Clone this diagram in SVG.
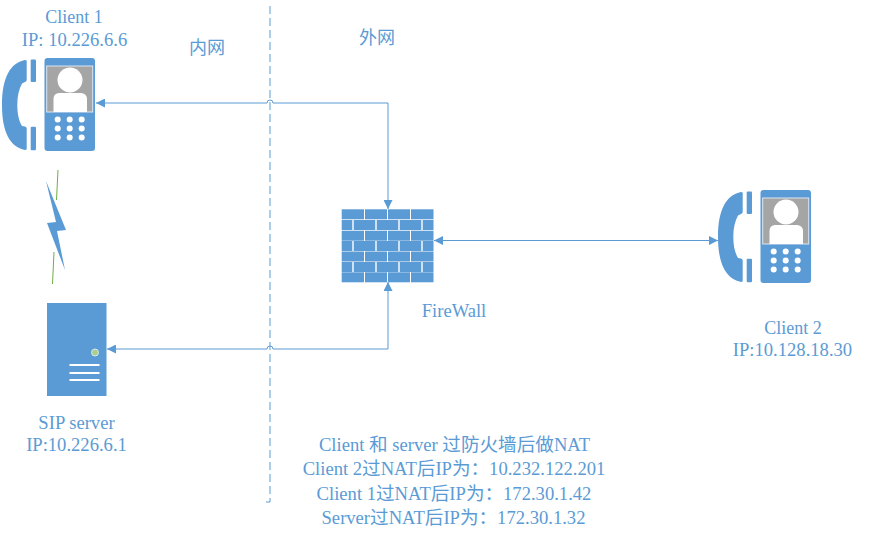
<svg xmlns="http://www.w3.org/2000/svg" width="876" height="548" viewBox="0 0 876 548">
<style>
text{font-family:"Liberation Serif","Noto Sans CJK SC",serif;font-size:18.600px;fill:#5B9BD5;text-anchor:middle}
.s{font-size:18px}
.c{fill:none;stroke:#5B9BD5;stroke-width:1}
.f{fill:#5B9BD5}
.br{fill:#5B9BD5}
</style>
<defs>
<marker id="a" viewBox="0 0 10 10" refX="10" refY="5" markerWidth="10" markerHeight="9" markerUnits="userSpaceOnUse" orient="auto-start-reverse"><path d="M0 0L10 5L0 10z" fill="#5B9BD5"/></marker>
<g id="phone">
<path class="f" d="M25 60C10 63 2 78 2 105C2 132 10 147 25 150L26.700 149.500V128.500Q26.700 127 25 126.500L22 126C19 121 17.300 114 17.300 105C17.300 96 19 89 22 83.500L25 82Q26.700 81.500 26.700 80V60.500Z"/>
<rect class="f" x="30.700" y="59.500" width="5.300" height="22.500" rx="1"/>
<rect class="f" x="30.700" y="126.800" width="5.300" height="23.500" rx="1"/>
<rect class="f" x="44.500" y="58" width="50.500" height="93" rx="3"/>
<rect x="46.700" y="66" width="46" height="46" fill="#A5A5A5" stroke="#DCE6F1" stroke-width="1"/>
<circle cx="70" cy="80" r="12.500" fill="#fff"/>
<path d="M53.500 112V99C53.500 95 56 93 60 93H80C84 93 87 95 87 99V112Z" fill="#fff"/>
<g fill="#fff">
<circle cx="57.700" cy="119.500" r="3"/><circle cx="69.700" cy="119.500" r="3"/><circle cx="81.700" cy="119.500" r="3"/>
<circle cx="57.700" cy="128.500" r="3"/><circle cx="69.700" cy="128.500" r="3"/><circle cx="81.700" cy="128.500" r="3"/>
<circle cx="57.700" cy="137.500" r="3"/><circle cx="69.700" cy="137.500" r="3"/><circle cx="81.700" cy="137.500" r="3"/>
</g>
</g>
</defs>
<g id="connectors">
<path class="c" d="M270 6V502H266" stroke-dasharray="8 4"/>
<path class="c" d="M388 209V103H273A3 3 0 0 0 267 103H96" marker-start="url(#a)" marker-end="url(#a)"/>
<path class="c" d="M388 282V349H273A3 3 0 0 0 267 349H107" marker-start="url(#a)" marker-end="url(#a)"/>
<line class="c" x1="434" y1="240.500" x2="718" y2="240.500" marker-start="url(#a)" marker-end="url(#a)"/>
</g>
<g id="client1">
<use href="#phone"/>
<text class="s" x="74" y="23">Client 1</text>
<text x="74.500" y="46">IP: 10.226.6.6</text>
</g>
<g id="client2">
<use href="#phone" x="716" y="132"/>
<text class="s" x="793" y="334">Client 2</text>
<text x="792.500" y="356">IP:10.128.18.30</text>
</g>
<g id="wireless">
<line x1="58" y1="170" x2="56.500" y2="200" stroke="#70AD47" stroke-width="1"/>
<line x1="54" y1="252" x2="52.500" y2="284" stroke="#70AD47" stroke-width="1"/>
<polygon class="f" points="46,181 66,230 57,231 65,270 47,223 56,222"/>
</g>
<g id="server">
<rect class="f" x="47" y="303" width="59.500" height="93"/>
<circle cx="95" cy="352.500" r="3.500" fill="#A9D18E" stroke="#DCE6F1"/>
<g fill="#fff"><rect x="69.500" y="364" width="30" height="2"/><rect x="69.500" y="372" width="30" height="2"/><rect x="69.500" y="379" width="30" height="2"/></g>
<text x="76.500" y="429">SIP server</text>
<text x="76.500" y="451">IP:10.226.6.1</text>
</g>
<g id="firewall">
<g class="br">
<rect x="341.700" y="209.300" width="22.300" height="10"/><rect x="365" y="209.300" width="22" height="10"/><rect x="388" y="209.300" width="22" height="10"/><rect x="411" y="209.300" width="22.500" height="10"/>
<rect x="341.700" y="220" width="10.600" height="10"/><rect x="353.700" y="220" width="21.600" height="10"/><rect x="376.700" y="220" width="21.600" height="10"/><rect x="399.700" y="220" width="21.600" height="10"/><rect x="422.700" y="220" width="10.800" height="10"/>
<rect x="341.700" y="230.700" width="22.300" height="10"/><rect x="365" y="230.700" width="22" height="10"/><rect x="388" y="230.700" width="22" height="10"/><rect x="411" y="230.700" width="22.500" height="10"/>
<rect x="341.700" y="241" width="10.600" height="10"/><rect x="353.700" y="241" width="21.600" height="10"/><rect x="376.700" y="241" width="21.600" height="10"/><rect x="399.700" y="241" width="21.600" height="10"/><rect x="422.700" y="241" width="10.800" height="10"/>
<rect x="341.700" y="251.500" width="22.300" height="10"/><rect x="365" y="251.500" width="22" height="10"/><rect x="388" y="251.500" width="22" height="10"/><rect x="411" y="251.500" width="22.500" height="10"/>
<rect x="341.700" y="262" width="10.600" height="10"/><rect x="353.700" y="262" width="21.600" height="10"/><rect x="376.700" y="262" width="21.600" height="10"/><rect x="399.700" y="262" width="21.600" height="10"/><rect x="422.700" y="262" width="10.800" height="10"/>
<rect x="341.700" y="272.300" width="22.300" height="10"/><rect x="365" y="272.300" width="22" height="10"/><rect x="388" y="272.300" width="22" height="10"/><rect x="411" y="272.300" width="22.500" height="10"/>
</g>
<text x="454" y="317">FireWall</text>
</g>
<g id="labels">
<text class="s" x="207" y="54">内网</text>
<text class="s" x="377" y="44">外网</text>
<text x="454.500" y="451">Client 和 server 过防火墙后做NAT</text>
<text x="454" y="475">Client 2过NAT后IP为：10.232.122.201</text>
<text x="454" y="500">Client 1过NAT后IP为：172.30.1.42</text>
<text x="453.500" y="524">Server过NAT后IP为：172.30.1.32</text>
</g>
</svg>
